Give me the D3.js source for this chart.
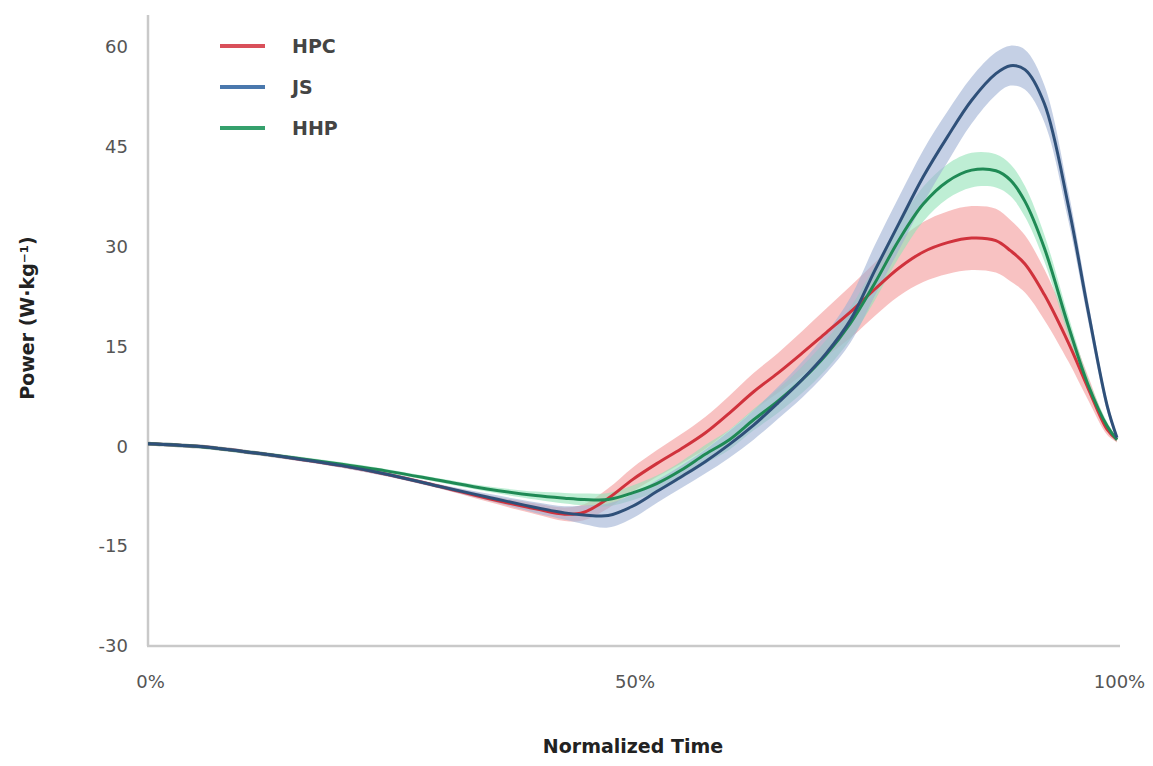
<!DOCTYPE html>
<html>
<head>
<meta charset="utf-8">
<script src="https://cdn.jsdelivr.net/npm/d3@7"></script>
<style>
  html, body { margin: 0; padding: 0; background: #fff; }
  svg { display: block; }
  text { font-family: "DejaVu Sans", Verdana, sans-serif; }
</style>
</head>
<body>
<svg id="chart" width="1153" height="766"></svg>
<script>
// Normalized time (% of movement)
const timePct = [0, 5, 10, 15, 20, 25, 30, 35, 40, 43, 45, 47.5, 50, 52.5, 55, 57.5, 60, 62.5, 65, 67.5, 70, 72.5, 75, 77.5, 80, 82.5, 85, 87.5, 89, 90.5, 92.5, 95, 97, 99, 100];

// Mean power (W·kg-1) per condition
const hpcMean = [0.4, 0.0, -0.8, -1.8, -2.9, -4.3, -6.0, -7.8, -9.4, -10.2, -9.9, -7.8, -5.0, -2.6, -0.4, 2.0, 5.0, 8.2, 11.0, 14.0, 17.1, 20.2, 23.6, 26.8, 29.2, 30.6, 31.3, 30.9, 29.4, 27.4, 22.8, 15.5, 8.8, 2.5, 1.0];
const jsMean  = [0.4, 0.0, -0.8, -1.8, -2.9, -4.3, -6.0, -7.6, -9.2, -10.0, -10.3, -10.4, -9.0, -6.8, -4.6, -2.3, 0.3, 3.2, 6.5, 10.0, 14.0, 19.0, 26.4, 33.5, 40.5, 46.5, 52.0, 56.0, 57.2, 56.6, 51.5, 36.0, 20.5, 6.0, 1.3];
const hhpMean = [0.4, 0.0, -0.8, -1.7, -2.7, -3.8, -5.1, -6.4, -7.4, -7.8, -8.0, -8.0, -7.0, -5.6, -3.6, -1.2, 1.0, 4.0, 6.8, 10.0, 13.8, 18.5, 24.5, 31.0, 36.4, 39.8, 41.5, 41.4, 40.0, 36.8, 29.8, 18.0, 9.3, 3.0, 1.0];

// Between-subject standard deviation (shaded bands)
const hpcSD = [0.3, 0.3, 0.3, 0.3, 0.3, 0.3, 0.3, 0.5, 0.8, 1.0, 1.2, 1.5, 1.8, 2.0, 2.2, 2.4, 2.6, 2.8, 3.0, 3.3, 3.6, 3.9, 4.0, 4.2, 4.5, 4.7, 4.8, 4.8, 4.6, 4.3, 3.8, 2.8, 1.8, 0.8, 0.4];
const jsSD  = [0.3, 0.3, 0.3, 0.3, 0.3, 0.3, 0.3, 0.5, 0.8, 1.0, 1.4, 1.8, 1.8, 1.7, 1.7, 1.8, 2.0, 2.2, 2.4, 2.7, 3.0, 3.4, 3.8, 4.0, 4.0, 3.8, 3.5, 3.2, 3.0, 3.0, 2.8, 2.2, 1.5, 0.8, 0.4];
const hhpSD = [0.3, 0.3, 0.3, 0.3, 0.3, 0.3, 0.3, 0.4, 0.6, 0.8, 0.9, 1.0, 1.1, 1.2, 1.3, 1.4, 1.5, 1.6, 1.8, 2.0, 2.2, 2.4, 2.6, 2.6, 2.6, 2.6, 2.6, 2.5, 2.4, 2.3, 2.0, 1.5, 1.0, 0.6, 0.3];

const yTicks = [-30, -15, 0, 15, 30, 45, 60];
const xTicks = [0, 50, 100];
const seriesNames = ["HPC", "JS", "HHP"];

// Drawn back to front: red first, blue last
const series = [
  { name: "HPC", mean: hpcMean, sd: hpcSD, line: "#d0323c", band: "#f39a9a" },
  { name: "HHP", mean: hhpMean, sd: hhpSD, line: "#1f8a55", band: "#93e2b8" },
  { name: "JS",  mean: jsMean,  sd: jsSD,  line: "#2f5079", band: "#9fb1d3" }
];
const legendColors = { HPC: "#d9505a", JS: "#4a78ad", HHP: "#35a06c" };

const svg = d3.select("#chart");
const x = d3.scaleLinear().domain([0, 100]).range([148, 1117]);
const y = d3.scaleLinear().domain([-30, 60]).range([646, 47]);

// Axes: plain grey lines, no tick marks
const axisColor = "#c9c9c9";
svg.append("line").attr("x1", 148).attr("x2", 148).attr("y1", 15).attr("y2", 646)
  .attr("stroke", axisColor).attr("stroke-width", 2.5);
svg.append("line").attr("x1", 147).attr("x2", 1120).attr("y1", 646).attr("y2", 646)
  .attr("stroke", axisColor).attr("stroke-width", 2.5);

const yAxis = d3.axisLeft(y).tickValues(yTicks).tickFormat(d => String(d)).tickSize(0).tickPadding(0);
const gy = svg.append("g").attr("transform", "translate(128,0)").call(yAxis);
gy.select(".domain").remove();
gy.selectAll("text").attr("font-size", 18).attr("fill", "#555").attr("font-family", "'DejaVu Sans', sans-serif");

const xAxis = d3.axisBottom(x).tickValues(xTicks).tickFormat(d => d + "%").tickSize(0).tickPadding(0);
const gx = svg.append("g").attr("transform", "translate(2,675)").call(xAxis);
gx.select(".domain").remove();
gx.selectAll("text").attr("font-size", 18).attr("fill", "#555").attr("font-family", "'DejaVu Sans', sans-serif");

// Axis titles
svg.append("text").attr("x", 633).attr("y", 753).attr("text-anchor", "middle")
  .attr("font-size", 19).attr("font-weight", 700).attr("fill", "#222")
  .text("Normalized Time");
svg.append("text").attr("transform", "translate(34,318) rotate(-90)").attr("text-anchor", "middle")
  .attr("font-size", 19).attr("font-weight", 700).attr("fill", "#222")
  .text("Power (W·kg⁻¹)");

// Shaded SD bands and mean curves
const curve = d3.curveCatmullRom.alpha(0.5);
const area = d3.area()
  .x((d, i) => x(timePct[i]))
  .y0(d => y(d[0] - d[1]))
  .y1(d => y(d[0] + d[1]))
  .curve(curve);
const line = d3.line()
  .x((d, i) => x(timePct[i]))
  .y(d => y(d))
  .curve(curve);

const gBands = svg.append("g");
series.forEach(s => {
  gBands.append("path")
    .datum(s.mean.map((m, i) => [m, s.sd[i]]))
    .attr("d", area)
    .attr("fill", s.band)
    .attr("fill-opacity", 0.6);
});

const gLines = svg.append("g");
series.forEach(s => {
  gLines.append("path")
    .datum(s.mean)
    .attr("d", line)
    .attr("fill", "none")
    .attr("stroke", s.line)
    .attr("stroke-width", 3)
    .attr("stroke-linejoin", "round");
});

// Legend
const legend = svg.append("g");
seriesNames.forEach((name, i) => {
  const ly = 46 + i * 41;
  legend.append("line").attr("x1", 220).attr("x2", 265).attr("y1", ly).attr("y2", ly)
    .attr("stroke", legendColors[name]).attr("stroke-width", 4);
  legend.append("text").attr("x", 292).attr("y", ly + 7)
    .attr("font-size", 19).attr("font-weight", 700).attr("fill", "#444")
    .text(name);
});
</script>
</body>
</html>
